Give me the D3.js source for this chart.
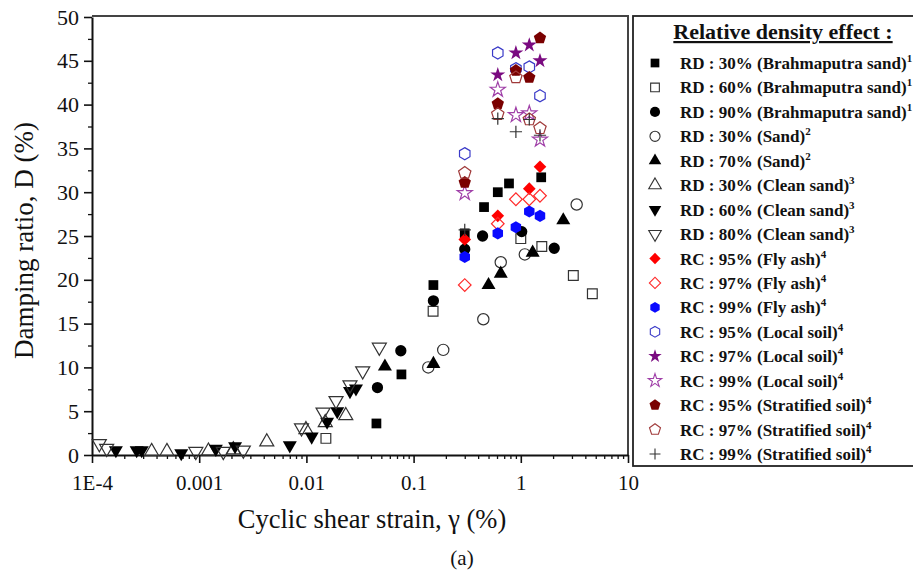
<!DOCTYPE html>
<html>
<head>
<meta charset="utf-8">
<script src="https://cdn.jsdelivr.net/npm/d3@7"></script>
<style>
  body { margin: 0; background: #fff; }
  text { font-family: "Liberation Serif", "Times New Roman", serif; fill: #111; }
</style>
</head>
<body>
<div id="chart"></div>
<script>
// values: [cyclic shear strain (%), damping ratio (%)]
const rd30Brahmaputra = [[0.045,3.6],[0.077,9.2],[0.153,19.4],[0.3,25.3],[0.454,28.3],[0.61,30.0],[0.776,31.0],[1.55,31.7]];
const rd60Brahmaputra = [[0.0152,1.9],[0.152,16.4],[1.0,24.7],[1.57,23.8],[3.09,20.5],[4.65,18.4]];
const rd90Brahmaputra = [[0.046,7.7],[0.076,11.9],[0.153,17.6],[0.3,23.5],[0.44,25.0],[1.02,25.5],[2.05,23.6]];
const rd30Sand = [[0.137,10.0],[0.189,12.0],[0.447,15.5],[0.65,22.0],[1.09,22.9],[3.32,28.6]];
const rd70Sand = [[0.054,10.1],[0.153,10.4],[0.50,19.4],[0.65,20.7],[1.29,23.1],[2.49,26.8]];
const rd30Clean = [[0.00036,0.4],[0.0005,0.4],[0.00122,0.45],[0.00208,0.6],[0.00427,1.5],[0.0099,2.9],[0.015,3.7],[0.0233,4.5]];
const rd60Clean = [[0.000167,0.55],[0.000261,0.55],[0.000291,0.55],[0.00068,0.2],[0.00143,0.7],[0.00216,1.0],[0.007,1.1],[0.0112,2.1],[0.0156,3.8],[0.0194,5.0],[0.0255,7.3],[0.029,7.6]];
const rd80Clean = [[0.000117,1.3],[0.000137,0.75],[0.00093,0.4],[0.00168,0.4],[0.00258,0.55],[0.009,3.1],[0.0143,4.9],[0.0189,6.2],[0.0255,8.0],[0.0335,9.6],[0.0479,12.3]];
const rc95FlyAsh = [[0.3,24.6],[0.61,27.3],[1.2,30.4],[1.51,32.9]];
const rc97FlyAsh = [[0.3,19.4],[0.61,26.4],[0.9,29.2],[1.2,29.2],[1.51,29.6]];
const rc99FlyAsh = [[0.3,22.6],[0.61,25.3],[0.9,26.0],[1.2,27.8],[1.51,27.3]];
const rc95Local = [[0.3,34.4],[0.61,45.9],[0.9,44.1],[1.2,44.3],[1.51,41.0]];
const rc97Local = [[0.61,43.4],[0.9,45.9],[1.2,46.8],[1.51,45.0]];
const rc99Local = [[0.3,29.9],[0.61,41.7],[0.9,38.8],[1.2,39.0],[1.51,36.0]];
const rc95Stratified = [[0.3,31.1],[0.61,40.1],[0.9,43.9],[1.2,43.1],[1.51,47.6]];
const rc97Stratified = [[0.3,32.2],[0.61,38.9],[0.9,43.1],[1.2,38.3],[1.51,37.3]];
const rc99Stratified = [[0.3,25.7],[0.61,38.4],[0.9,36.9],[1.2,38.3],[1.51,36.5]];

const legendLabels = [
  "RD : 30% (Brahmaputra sand)", "RD : 60% (Brahmaputra sand)", "RD : 90% (Brahmaputra sand)",
  "RD : 30% (Sand)", "RD : 70% (Sand)",
  "RD : 30% (Clean sand)", "RD : 60% (Clean sand)", "RD : 80% (Clean sand)",
  "RC : 95% (Fly ash)", "RC : 97% (Fly ash)", "RC : 99% (Fly ash)",
  "RC : 95% (Local soil)", "RC : 97% (Local soil)", "RC : 99% (Local soil)",
  "RC : 95% (Stratified soil)", "RC : 97% (Stratified soil)", "RC : 99% (Stratified soil)"
];
const legendRefs = ["1","1","1","2","2","3","3","3","4","4","4","4","4","4","4","4","4"];

const xTickValues = [1e-4, 1e-3, 1e-2, 0.1, 1, 10];
const xTickLabels = ["1E-4", "0.001", "0.01", "0.1", "1", "10"];
const yTickValues = [0, 5, 10, 15, 20, 25, 30, 35, 40, 45, 50];

let width = 913, height = 572,
    margin = ({ top: 16, right: 285, bottom: 117, left: 92 });

// extra marker shapes the figure uses
const symbolHexagon = { draw(ctx, size) {
  const r = Math.sqrt(size / (3 * Math.sqrt(3) / 2));
  for (let i = 0; i < 6; i++) {
    const a = i * Math.PI / 3 - Math.PI / 2;
    i ? ctx.lineTo(r * Math.cos(a), r * Math.sin(a)) : ctx.moveTo(r * Math.cos(a), r * Math.sin(a));
  }
  ctx.closePath();
}};
const symbolPentagon = { draw(ctx, size) {
  const r = Math.sqrt(size / (2.5 * Math.sin(2 * Math.PI / 5)));
  for (let i = 0; i < 5; i++) {
    const a = i * 2 * Math.PI / 5 - Math.PI / 2;
    i ? ctx.lineTo(r * Math.cos(a), r * Math.sin(a)) : ctx.moveTo(r * Math.cos(a), r * Math.sin(a));
  }
  ctx.closePath();
}};
const symbolThinPlus = { draw(ctx, size) {
  const r = Math.sqrt(size) / 2;
  ctx.moveTo(-r, 0); ctx.lineTo(r, 0);
  ctx.moveTo(0, -r); ctx.lineTo(0, r);
}};

const series = [
  { data: rd30Brahmaputra, type: d3.symbolSquare, size: 95, fill: "#000", stroke: "none" },
  { data: rd60Brahmaputra, type: d3.symbolSquare, size: 95, fill: "none", stroke: "#333" },
  { data: rd90Brahmaputra, type: d3.symbolCircle, size: 100, fill: "#000", stroke: "none" },
  { data: rd30Sand, type: d3.symbolCircle, size: 100, fill: "none", stroke: "#333" },
  { data: rd70Sand, type: d3.symbolTriangle, size: 85, fill: "#000", stroke: "none" },
  { data: rd30Clean, type: d3.symbolTriangle, size: 85, fill: "none", stroke: "#333" },
  { data: rd60Clean, type: d3.symbolTriangle, size: 85, fill: "#000", stroke: "none", rotate: 180 },
  { data: rd80Clean, type: d3.symbolTriangle, size: 85, fill: "none", stroke: "#333", rotate: 180 },
  { data: rc95FlyAsh, type: d3.symbolSquare, size: 80, fill: "#ff0000", stroke: "none", rotate: 45 },
  { data: rc97FlyAsh, type: d3.symbolSquare, size: 80, fill: "none", stroke: "#ff2a2a", rotate: 45 },
  { data: rc99FlyAsh, type: symbolHexagon, size: 95, fill: "#0a0aff", stroke: "none" },
  { data: rc95Local, type: symbolHexagon, size: 95, fill: "none", stroke: "#3a3ac8" },
  { data: rc97Local, type: d3.symbolStar, size: 70, fill: "#7a0a80", stroke: "none" },
  { data: rc99Local, type: d3.symbolStar, size: 70, fill: "none", stroke: "#a040a8" },
  { data: rc95Stratified, type: symbolPentagon, size: 100, fill: "#7a0000", stroke: "none" },
  { data: rc97Stratified, type: symbolPentagon, size: 100, fill: "none", stroke: "#a03a3a" },
  { data: rc99Stratified, type: symbolThinPlus, size: 150, fill: "none", stroke: "#333" }
];

const svg = d3.select("#chart")
  .append("svg")
  .attr("width", width)
  .attr("height", height)
  .attr("viewBox", [0, 0, width, height]);

let x = d3.scaleLog()
  .domain([1e-4, 10])
  .range([margin.left, width - margin.right]);

let y = d3.scaleLinear()
  .domain([0, 50])
  .range([height - margin.bottom, margin.top + 1]);

const plotRight = width - margin.right, plotBottom = height - margin.bottom;

// frame (top and right sides)
svg.append("path")
  .attr("d", `M${margin.left},${margin.top}H${plotRight}V${plotBottom}`)
  .attr("fill", "none")
  .attr("stroke", "#444")
  .attr("stroke-width", 2);

// minor ticks on the log axis
let xMinor = [];
for (let e = -4; e < 1; e++) for (let m = 2; m < 10; m++) xMinor.push(m * Math.pow(10, e));

svg.append("g")
  .attr("transform", `translate(0,${plotBottom})`)
  .call(d3.axisBottom(x).tickValues(xMinor).tickSize(4).tickFormat(""))
  .call(g => g.select(".domain").remove())
  .call(g => g.selectAll("line").attr("stroke", "#111").attr("stroke-width", 1.3));

svg.append("g")
  .attr("class", "x-axis")
  .attr("transform", `translate(0,${plotBottom})`)
  .call(d3.axisBottom(x).tickValues(xTickValues).tickSize(8).tickSizeOuter(0)
    .tickFormat((d, i) => xTickLabels[i]))
  .call(g => g.select(".domain").attr("stroke", "#111").attr("stroke-width", 2))
  .call(g => g.selectAll("line").attr("stroke", "#111").attr("stroke-width", 1.6))
  .call(g => g.selectAll("text").attr("font-size", 21).attr("dy", "1.15em").attr("fill", "#111"));

svg.append("g")
  .attr("transform", `translate(${margin.left},0)`)
  .call(d3.axisLeft(y).tickValues(d3.range(2.5, 50, 5)).tickSize(4).tickFormat(""))
  .call(g => g.select(".domain").remove())
  .call(g => g.selectAll("line").attr("stroke", "#111").attr("stroke-width", 1.3));

svg.append("g")
  .attr("class", "y-axis")
  .attr("transform", `translate(${margin.left},0)`)
  .call(d3.axisLeft(y).tickValues(yTickValues).tickSize(8).tickSizeOuter(0).tickPadding(5))
  .call(g => g.select(".domain").attr("stroke", "#111").attr("stroke-width", 2))
  .call(g => g.selectAll("line").attr("stroke", "#111").attr("stroke-width", 1.6))
  .call(g => g.selectAll("text").attr("font-size", 22).attr("fill", "#111"));

// axis titles
svg.append("text")
  .attr("x", 372)
  .attr("y", 528)
  .attr("text-anchor", "middle")
  .attr("font-size", 26.5)
  .text("Cyclic shear strain, γ (%)");

svg.append("text")
  .attr("transform", `translate(33,${(margin.top + plotBottom) / 2 + 5}) rotate(-90)`)
  .attr("text-anchor", "middle")
  .attr("font-size", 27)
  .text("Damping ratio, D (%)");

svg.append("text")
  .attr("x", 462)
  .attr("y", 565)
  .attr("text-anchor", "middle")
  .attr("font-size", 21)
  .text("(a)");

// markers
const symbol = d3.symbol();
series.forEach(s => {
  svg.append("g")
    .selectAll("path")
    .data(s.data)
    .join("path")
    .attr("transform", d => `translate(${x(d[0])},${y(d[1])})` + (s.rotate ? ` rotate(${s.rotate})` : ""))
    .attr("d", symbol.type(s.type).size(s.size)())
    .attr("fill", s.fill)
    .attr("stroke", s.stroke)
    .attr("stroke-width", 1.2);
});

// legend box
const legend = svg.append("g");
legend.append("rect")
  .attr("x", 633).attr("y", 16)
  .attr("width", 300).attr("height", 450)
  .attr("fill", "none")
  .attr("stroke", "#222")
  .attr("stroke-width", 1.8);

legend.append("text")
  .attr("x", 783).attr("y", 39)
  .attr("text-anchor", "middle")
  .attr("font-size", 22)
  .attr("font-weight", "bold")
  .attr("text-decoration", "underline")
  .text("Relative density effect :");

const row = d3.scaleLinear().domain([0, 16]).range([63, 454]);

series.forEach((s, i) => {
  legend.append("path")
    .attr("transform", `translate(655,${row(i)})` + (s.rotate ? ` rotate(${s.rotate})` : ""))
    .attr("d", symbol.type(s.type).size(s.size * 0.8)())
    .attr("fill", s.fill)
    .attr("stroke", s.stroke)
    .attr("stroke-width", 1.1);

  const t = legend.append("text")
    .attr("x", 680).attr("y", row(i) + 6)
    .attr("font-size", 17)
    .attr("font-weight", "bold");
  t.append("tspan").text(legendLabels[i]);
  t.append("tspan").attr("dy", -7).attr("font-size", 11).text(legendRefs[i]);
});
</script>
</body>
</html>
